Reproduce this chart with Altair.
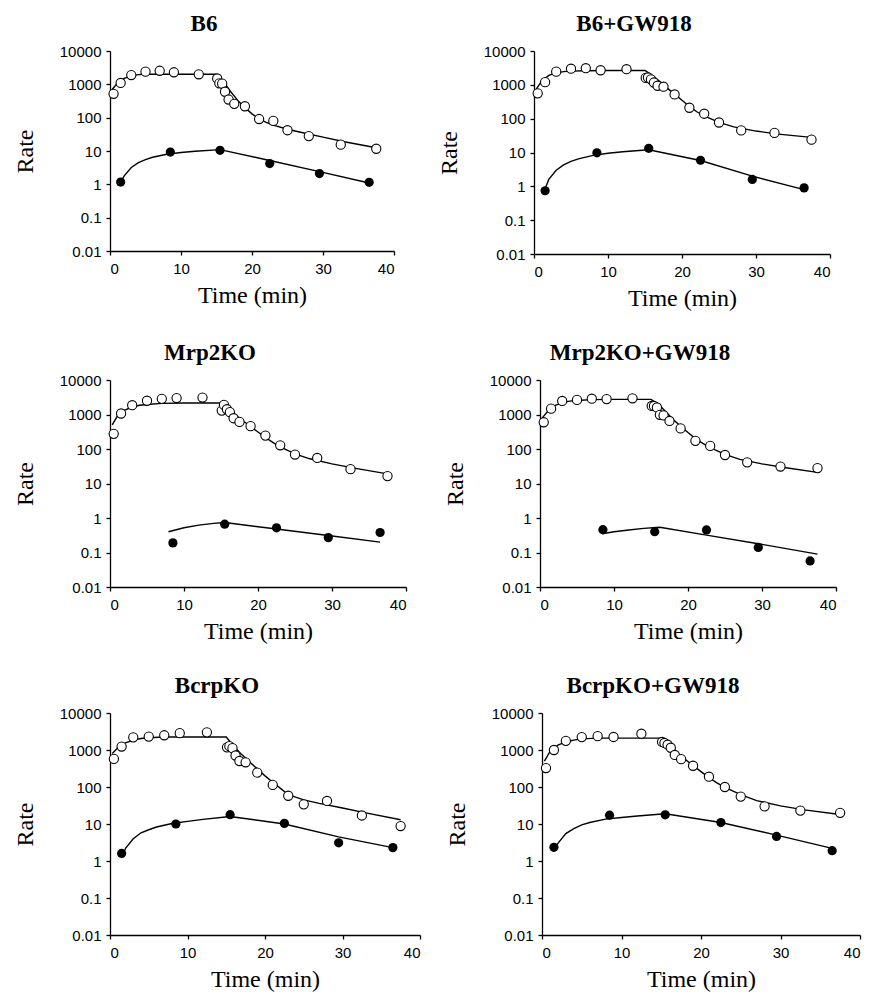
import altair as alt
import pandas as pd

PANELS = ["B6", "B6+GW918", "Mrp2KO", "Mrp2KO+GW918", "BcrpKO", "BcrpKO+GW918"]
Y_TICKS = [0.01, 0.1, 1, 10, 100, 1000, 10000]
X_TICKS = [0, 10, 20, 30, 40]

# observed (open circles)
OPEN_T = [0.5, 1.5, 3, 5, 7, 9, 12.5, 15.1, 15.4, 15.8, 16.2, 16.7, 17.5, 19, 21, 23, 25, 28, 32.5, 37.5]
B6_OPEN = [520, 1100, 1900, 2400, 2550, 2300, 2000, 1500, 1070, 1050, 600, 350, 260, 220, 91, 80, 42, 28, 15.5, 11.7]
B6GW_OPEN = [560, 1200, 2450, 3000, 3100, 2700, 2900, 1600, 1650, 1450, 1170, 940, 880, 520, 210, 140, 77, 45, 38, 24]
MRP_OPEN = [275, 1070, 1860, 2500, 2840, 3000, 3100, 1300, 1900, 1420, 1170, 780, 610, 460, 245, 128, 69, 55, 26, 16.4]
MRPGW_OPEN = [595, 1480, 2470, 2650, 2870, 2800, 2950, 1770, 1770, 1600, 980, 940, 650, 395, 172, 123, 67, 41, 31, 28]
BCRP_OPEN = [575, 1240, 2200, 2300, 2500, 2850, 3000, 1180, 1270, 1120, 710, 505, 465, 245, 114, 58, 34, 42, 17, 8.8]
BCRPGW_OPEN = [325, 1000, 1770, 2230, 2370, 2250, 2760, 1650, 1550, 1390, 1150, 735, 565, 375, 190, 100, 55, 30, 23, 20]

# observed (filled circles)
FILLED_T = [1.5, 8.5, 15.5, 22.5, 29.5, 36.5]
B6_FILLED = [1.17, 9.3, 10.5, 4.2, 2.1, 1.15]
B6GW_FILLED = [0.74, 9.8, 13.3, 5.9, 1.6, 0.9]
MRP_FILLED = [None, 0.19, 0.66, 0.52, 0.27, 0.38]
MRPGW_FILLED = [None, 0.46, 0.40, 0.45, 0.14, 0.057]
BCRP_FILLED = [1.6, 10, 17.8, 10.4, 3.1, 2.3]
BCRPGW_FILLED = [2.35, 17.3, 17.7, 10.9, 4.6, 1.9]

# fitted curves (open series)
FIT_OPEN_T = [0.3, 1, 2, 3, 4, 5, 7, 10, 13, 15, 16, 17, 18, 19, 20, 21, 22, 23, 25, 27, 30, 33, 37.5]
B6_FIT_OPEN = [700, 1050, 1500, 1800, 1950, 2000, 2000, 2000, 2000, 2000, 1200, 600, 330, 200, 130, 92, 72, 60, 45, 36, 26, 19, 12.5]
B6GW_FIT_OPEN = [750, 1250, 1900, 2250, 2450, 2550, 2600, 2650, 2650, 2650, 1900, 1250, 800, 530, 350, 230, 160, 120, 78, 57, 43, 35, 28]
MRP_FIT_OPEN = [500, 900, 1350, 1650, 1850, 1950, 2100, 2150, 2150, 2150, 1500, 950, 650, 450, 310, 215, 155, 115, 72, 52, 37, 28, 19]
MRPGW_FIT_OPEN = [800, 1200, 1800, 2200, 2450, 2550, 2700, 2750, 2750, 2750, 2000, 1200, 720, 460, 300, 200, 145, 110, 70, 50, 37, 29, 21]
BCRP_FIT_OPEN = [800, 1150, 1550, 1850, 2050, 2150, 2250, 2250, 2250, 2250, 1250, 750, 480, 310, 200, 135, 92, 62, 45, 36, 27, 20, 13]
BCRPGW_FIT_OPEN = [500, 900, 1350, 1650, 1850, 2000, 2100, 2100, 2100, 2100, 1500, 850, 560, 380, 260, 180, 130, 98, 62, 43, 31, 24, 18]

# fitted curves (filled series)
B6_FIT_FILLED_T = [1.5, 2, 3, 4, 5, 6, 8, 10, 12, 15.5, 22.5, 29.5, 36.5]
B6_FIT_FILLED = [1.15, 1.8, 3.2, 4.5, 5.5, 6.5, 8.0, 9.0, 9.8, 11.0, 5.2, 2.4, 1.1]
B6GW_FIT_FILLED_T = [1.5, 2, 3, 4, 5, 6, 8, 10, 12, 15.5, 22.5, 29.5, 36.5]
B6GW_FIT_FILLED = [0.85, 1.6, 3.0, 4.3, 5.5, 6.5, 8.2, 9.5, 10.5, 12.0, 5.8, 2.0, 0.8]
MRP_FIT_FILLED_T = [7.9, 10, 12, 14, 15.5, 22.5, 29.5, 36.5]
MRP_FIT_FILLED = [0.40, 0.52, 0.62, 0.70, 0.74, 0.48, 0.31, 0.2]
MRPGW_FIT_FILLED_T = [8.4, 10, 12, 14, 16.2, 22.5, 29.5, 37.5]
MRPGW_FIT_FILLED = [0.35, 0.40, 0.45, 0.50, 0.54, 0.32, 0.18, 0.09]
BCRP_FIT_FILLED_T = [1.6, 2, 3, 4, 5, 6, 8, 10, 12, 15.5, 22.5, 29.5, 36.5]
BCRP_FIT_FILLED = [1.3, 2.2, 4.0, 5.8, 7.0, 8.3, 10.3, 11.8, 13.3, 16, 10, 4.5, 2.3]
BCRPGW_FIT_FILLED_T = [1.4, 2, 3, 4, 5, 6, 8, 10, 12, 15.5, 22.5, 29.5, 36.5]
BCRPGW_FIT_FILLED = [1.8, 3.0, 5.5, 7.5, 9.5, 11, 13.5, 15, 16.5, 19, 11, 5, 2.2]

SERIES = {
    "B6": (B6_OPEN, B6_FILLED, B6_FIT_OPEN, B6_FIT_FILLED_T, B6_FIT_FILLED),
    "B6+GW918": (B6GW_OPEN, B6GW_FILLED, B6GW_FIT_OPEN, B6GW_FIT_FILLED_T, B6GW_FIT_FILLED),
    "Mrp2KO": (MRP_OPEN, MRP_FILLED, MRP_FIT_OPEN, MRP_FIT_FILLED_T, MRP_FIT_FILLED),
    "Mrp2KO+GW918": (MRPGW_OPEN, MRPGW_FILLED, MRPGW_FIT_OPEN, MRPGW_FIT_FILLED_T, MRPGW_FIT_FILLED),
    "BcrpKO": (BCRP_OPEN, BCRP_FILLED, BCRP_FIT_OPEN, BCRP_FIT_FILLED_T, BCRP_FIT_FILLED),
    "BcrpKO+GW918": (BCRPGW_OPEN, BCRPGW_FILLED, BCRPGW_FIT_OPEN, BCRPGW_FIT_FILLED_T, BCRPGW_FIT_FILLED),
}


def frames(name):
    o, f, fo, fft, ff = SERIES[name]
    obs_open = pd.DataFrame({"t": OPEN_T, "v": o})
    obs_filled = pd.DataFrame({"t": FILLED_T, "v": f}).dropna()
    fit = pd.concat([
        pd.DataFrame({"t": FIT_OPEN_T, "v": fo, "s": "open"}),
        pd.DataFrame({"t": fft, "v": ff, "s": "filled"}),
    ])
    return obs_open, obs_filled, fit


def panel(name, w, h):
    obs_open, obs_filled, fit = frames(name)
    x = alt.X("t:Q", scale=alt.Scale(domain=[0, 40], nice=False),
              axis=alt.Axis(values=X_TICKS, title="Time (min)"))
    y = alt.Y("v:Q", scale=alt.Scale(type="log", domain=[0.01, 10000], nice=False),
              axis=alt.Axis(values=Y_TICKS, format="~g", title="Rate"))
    lines = alt.Chart(fit).mark_line(color="black", strokeWidth=1.4).encode(
        x=x, y=y, detail="s:N", order="t:Q")
    opens = alt.Chart(obs_open).mark_point(
        shape="circle", filled=True, fill="white", stroke="black",
        strokeWidth=1.1, size=85, opacity=1).encode(x=x, y=y)
    fills = alt.Chart(obs_filled).mark_circle(
        color="black", size=85, opacity=1).encode(x=x, y=y)
    return alt.layer(lines, opens, fills).properties(
        width=w, height=h,
        title=alt.TitleParams(name, frame="bounds", anchor="middle"))


row1 = alt.hconcat(panel(PANELS[0], 284, 200), panel(PANELS[1], 296, 203), spacing=42)
row2 = alt.hconcat(panel(PANELS[2], 296, 207), panel(PANELS[3], 296, 207), spacing=36)
row3 = alt.hconcat(panel(PANELS[4], 310, 222), panel(PANELS[5], 318, 222), spacing=24)

chart = alt.vconcat(row1, row2, row3, spacing=32).configure_view(
    stroke=None
).configure_axis(
    grid=False,
    domainColor="black", domainWidth=1.3,
    tickColor="black", tickSize=4, tickWidth=1.3,
    labelColor="black", labelFont="Liberation Sans", labelFontSize=15,
    labelPadding=5,
    titleColor="black", titleFont="Liberation Serif", titleFontSize=24,
    titleFontWeight="normal",
).configure_axisY(
    titlePadding=22,
).configure_axisX(
    titlePadding=7, labelPadding=6,
).configure_title(
    font="Liberation Serif", fontSize=23, fontWeight="bold", color="black", offset=8,
)

chart.save("out.html", embed_options={"renderer": "svg", "actions": False})
